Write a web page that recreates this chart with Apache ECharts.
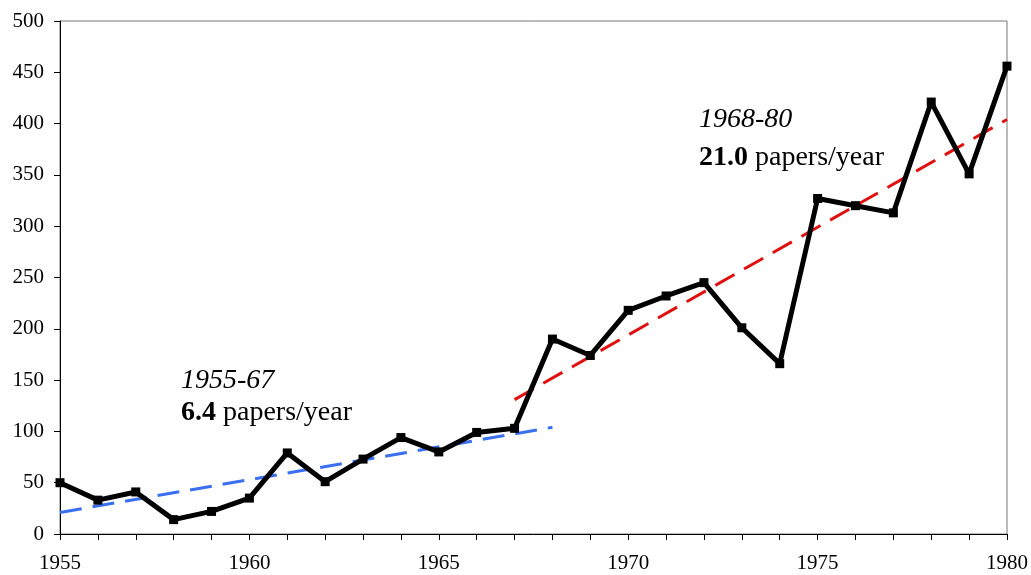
<!DOCTYPE html>
<html><head><meta charset="utf-8">
<script src="https://cdn.jsdelivr.net/npm/echarts@6/dist/echarts.min.js"></script>
<style>html,body{margin:0;padding:0;background:#fff}#c{width:1031px;height:575px}</style>
</head><body><div id="c"></div>
<script>
const years = [1955,1956,1957,1958,1959,1960,1961,1962,1963,1964,1965,1966,1967,1968,1969,1970,1971,1972,1973,1974,1975,1976,1977,1978,1979,1980];
const papers = [50,33,41,14,22,35,79,51,73,94,80,99,103,190,174,218,232,245,201,166,327,320,313,421,351,456];
const trend1 = [[1955,21],[1968,104]];
const trend2 = [[1967,131],[1980,404]];
const yTicks = [0,50,100,150,200,250,300,350,400,450,500];
const xLabelYears = [1955,1960,1965,1970,1975,1980];
const note1 = ['1955-67','6.4',' papers/year'];
const note2 = ['1968-80','21.0',' papers/year'];

const chart = echarts.init(document.getElementById('c'));
const font = '"Liberation Serif","Times New Roman",serif';
const rich = lh => ({i:{fontFamily:font,fontStyle:'italic',fontSize:28,lineHeight:lh,fill:'#000'},
            b:{fontFamily:font,fontWeight:'bold',fontSize:28,lineHeight:lh,fill:'#000'},
            n:{fontFamily:font,fontSize:28,lineHeight:lh,fill:'#000'}});
chart.setOption({
  animation:false,
  grid:{left:60,right:23,top:21,bottom:41,show:true,borderColor:'#777',borderWidth:1},
  xAxis:{type:'value',min:1955,max:1980,interval:1,
    axisLine:{lineStyle:{color:'#000',width:1}},
    axisTick:{length:6,inside:false,lineStyle:{color:'#000'}},
    splitLine:{show:false},
    axisLabel:{fontFamily:font,fontSize:21,color:'#000',margin:19,
      formatter:v=>xLabelYears.includes(v)?String(v):''}},
  yAxis:{type:'value',min:0,max:500,interval:50,
    axisLine:{show:true,lineStyle:{color:'#000',width:1}},
    axisTick:{show:true,length:6,lineStyle:{color:'#000'}},
    splitLine:{show:false},
    axisLabel:{fontFamily:font,fontSize:21,color:'#000',margin:16,
      formatter:v=>yTicks.includes(v)?String(v):''}},
  series:[
    {type:'line',data:trend1,symbol:'none',lineStyle:{color:'#3a6ff0',width:3,type:[22,11]},z:2},
    {type:'line',data:trend2,symbol:'none',lineStyle:{color:'#e01010',width:3,type:[22,11]},z:2},
    {type:'line',data:years.map((y,i)=>[y,papers[i]]),symbol:'rect',symbolSize:9,
      itemStyle:{color:'#000'},lineStyle:{color:'#000',width:5},z:3}
  ],
  graphic:[
    {type:'text',left:181,top:367,style:{text:'{i|'+note1[0]+'}\n{b|'+note1[1]+'}{n|'+note1[2]+'}',rich:rich(32)}},
    {type:'text',left:699,top:106,style:{text:'{i|'+note2[0]+'}\n{b|'+note2[1]+'}{n|'+note2[2]+'}',rich:rich(38)}}
  ]
});
</script></body></html>
